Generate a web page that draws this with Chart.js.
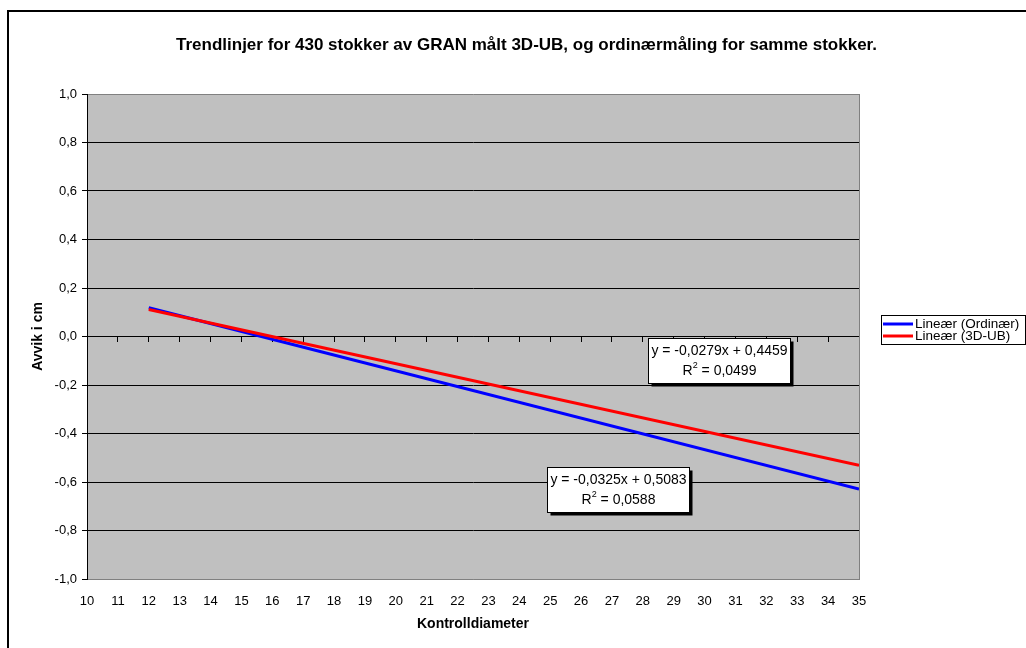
<!DOCTYPE html>
<html>
<head>
<meta charset="utf-8">
<title>Trendlinjer GRAN</title>
<script src="https://cdn.jsdelivr.net/npm/chart.js@4/dist/chart.umd.min.js"></script>
<style>
  html, body { margin: 0; padding: 0; background: #ffffff; }
  canvas { display: block; }
</style>
</head>
<body>
<canvas id="chart" width="1026" height="648"></canvas>
<script>
// Trend line series: y = slope * x + intercept, drawn over the diameter range
const seriesNames = ['Lineær (Ordinær)', 'Lineær (3D-UB)'];
const seriesColors = ['#0000ff', '#ff0000'];
const slopes = [-0.0325, -0.0279];
const intercepts = [0.5083, 0.4459];
const rSquared = [0.0588, 0.0499];
const trendFrom = 12;
const trendTo = 35;

// Axis ticks
const xTickValues = [10, 11, 12, 13, 14, 15, 16, 17, 18, 19, 20, 21, 22, 23, 24, 25, 26, 27, 28, 29, 30, 31, 32, 33, 34, 35];
const yTickValues = [-1.0, -0.8, -0.6, -0.4, -0.2, 0.0, 0.2, 0.4, 0.6, 0.8, 1.0];

const chartTitle = 'Trendlinjer for 430 stokker av GRAN målt 3D-UB, og ordinærmåling for samme stokker.';
const xTitle = 'Kontrolldiameter';
const yTitle = 'Avvik i cm';

const FONT = '"Liberation Sans", Arial, Helvetica, sans-serif';
Chart.defaults.font.family = FONT;
Chart.defaults.color = '#000000';

const comma = (v, d) => {
  const s = (Math.abs(v) < 1e-9 ? 0 : v).toFixed(d);
  return s.replace('.', ',');
};

const datasets = seriesNames.map((name, i) => ({
  label: name,
  data: [trendFrom, trendTo].map(x => ({ x: x, y: slopes[i] * x + intercepts[i] })),
  borderColor: seriesColors[i],
  backgroundColor: seriesColors[i],
  borderWidth: 3,
  pointRadius: 0,
  tension: 0,
  order: seriesNames.length - i
}));

// Where each equation box sits, in axis units
const equationAnchors = [{ x: 27.21, y: -0.631 }, { x: 30.48, y: -0.101 }];

const framePlugin = {
  id: 'frame',
  beforeDraw(chart) {
    const { ctx, chartArea: a } = chart;
    ctx.save();
    ctx.fillStyle = '#ffffff';
    ctx.fillRect(0, 0, chart.width, chart.height);
    // outer frame
    ctx.fillStyle = '#000000';
    ctx.fillRect(7, 10, 2, chart.height - 10);
    ctx.fillRect(7, 10, chart.width - 7, 2);
    // plot area
    ctx.fillStyle = '#c0c0c0';
    ctx.fillRect(a.left, a.top, a.right - a.left, a.bottom - a.top);
    // title
    ctx.fillStyle = '#000000';
    ctx.font = 'bold 17px ' + FONT;
    ctx.textAlign = 'center';
    ctx.textBaseline = 'middle';
    ctx.fillText(chartTitle, 526.5, 45);
    ctx.restore();
  },
  beforeDatasetsDraw(chart) {
    const { ctx, chartArea: a } = chart;
    ctx.save();
    ctx.strokeStyle = '#808080';
    ctx.lineWidth = 1;
    ctx.beginPath();
    ctx.moveTo(a.right + 0.5, a.top);
    ctx.lineTo(a.right + 0.5, a.bottom + 1);
    ctx.stroke();
    ctx.restore();
  },
  afterDatasetsDraw(chart) {
    const { ctx } = chart;
    const xs = chart.scales.x, ys = chart.scales.y;
    ctx.save();
    // equation boxes
    seriesNames.forEach((name, i) => {
      const cx = xs.getPixelForValue(equationAnchors[i].x);
      const cy = ys.getPixelForValue(equationAnchors[i].y);
      const w = 142, h = 45;
      const left = Math.round(cx - w / 2) + 0.5;
      const top = Math.round(cy - h / 2) + 0.5;
      ctx.fillStyle = '#000000';
      ctx.fillRect(left + 3, top + 3, w, h);
      ctx.fillStyle = '#ffffff';
      ctx.fillRect(left, top, w, h);
      ctx.strokeStyle = '#000000';
      ctx.lineWidth = 1;
      ctx.strokeRect(left, top, w, h);

      ctx.fillStyle = '#000000';
      ctx.textBaseline = 'middle';
      ctx.textAlign = 'center';
      ctx.font = '14px ' + FONT;
      const sign = intercepts[i] < 0 ? '-' : '+';
      const eq = 'y = ' + comma(slopes[i], 4) + 'x ' + sign + ' ' + comma(Math.abs(intercepts[i]), 4);
      ctx.fillText(eq, left + w / 2, top + 13);

      // R² line with raised 2
      const partR = 'R';
      const partRest = ' = ' + comma(rSquared[i], 4);
      ctx.font = '14px ' + FONT;
      const wR = ctx.measureText(partR).width;
      const wRest = ctx.measureText(partRest).width;
      ctx.font = '9px ' + FONT;
      const w2 = ctx.measureText('2').width;
      const total = wR + w2 + wRest;
      let x0 = left + w / 2 - total / 2;
      const ly = top + 33;
      ctx.textAlign = 'left';
      ctx.font = '14px ' + FONT;
      ctx.fillText(partR, x0, ly);
      ctx.font = '9px ' + FONT;
      ctx.fillText('2', x0 + wR, ly - 6);
      ctx.font = '14px ' + FONT;
      ctx.fillText(partRest, x0 + wR + w2, ly);
    });

    // legend
    const lx = 881.5, ly0 = 315.5, lw = 144, lh = 29;
    ctx.fillStyle = '#ffffff';
    ctx.fillRect(lx, ly0, lw, lh);
    ctx.strokeStyle = '#000000';
    ctx.lineWidth = 1;
    ctx.strokeRect(lx, ly0, lw, lh);
    ctx.font = '13.5px ' + FONT;
    ctx.textAlign = 'left';
    ctx.textBaseline = 'middle';
    seriesNames.forEach((name, i) => {
      const y = 324 + i * 12;
      ctx.strokeStyle = seriesColors[i];
      ctx.lineWidth = 3;
      ctx.beginPath();
      ctx.moveTo(883, y);
      ctx.lineTo(913, y);
      ctx.stroke();
      ctx.fillStyle = '#000000';
      ctx.fillText(name, 915, y + 0.5);
    });
    ctx.restore();
  }
};

new Chart(document.getElementById('chart'), {
  type: 'line',
  data: { datasets: datasets },
  plugins: [framePlugin],
  options: {
    responsive: false,
    animation: false,
    devicePixelRatio: 1,
    events: [],
    layout: { padding: { top: 94, right: 167, bottom: 0, left: 0 } },
    plugins: {
      legend: { display: false },
      title: { display: false },
      tooltip: { enabled: false }
    },
    scales: {
      x: {
        type: 'linear',
        position: 'bottom',
        min: 10,
        max: 35,
        afterBuildTicks: s => { s.ticks = xTickValues.map(v => ({ value: v })); },
        afterFit: s => { s.height = 69; },
        ticks: {
          autoSkip: false,
          maxRotation: 0,
          padding: 15,
          font: { size: 13 },
          color: '#000000',
          callback: v => String(v)
        },
        grid: { display: false, drawTicks: false },
        border: { display: true, color: '#808080', width: 1 },
        title: {
          display: true,
          text: xTitle,
          font: { size: 14, weight: 'bold' },
          color: '#000000',
          padding: { top: 0, bottom: 15 }
        }
      },
      x2: {
        type: 'linear',
        axis: 'x',
        position: { y: 0 },
        min: 10,
        max: 35,
        afterBuildTicks: s => { s.ticks = xTickValues.map(v => ({ value: v })); },
        ticks: { display: false },
        grid: { display: true, drawOnChartArea: false, drawTicks: true, tickLength: 5, color: '#000000', tickColor: '#000000' },
        border: { display: true, color: '#000000', width: 1 }
      },
      y: {
        type: 'linear',
        position: 'left',
        min: -1,
        max: 1,
        afterBuildTicks: s => { s.ticks = yTickValues.map(v => ({ value: v })); },
        afterFit: s => { s.width = 87; },
        ticks: {
          padding: 5,
          font: { size: 13 },
          color: '#000000',
          callback: v => comma(v, 1)
        },
        grid: {
          color: c => (c.tick && Math.abs(c.tick.value) > 0.99 ? '#808080' : '#000000'),
          tickColor: '#000000',
          lineWidth: 1,
          drawTicks: true,
          tickLength: 5
        },
        border: { display: true, color: '#000000', width: 1 },
        title: {
          display: true,
          text: yTitle,
          font: { size: 14, weight: 'bold' },
          color: '#000000',
          padding: { top: 30, bottom: 0 }
        }
      }
    }
  }
});
</script>
</body>
</html>
